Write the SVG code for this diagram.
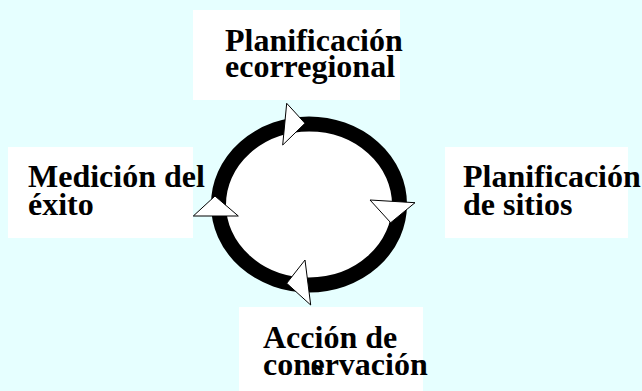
<svg xmlns="http://www.w3.org/2000/svg" width="642" height="391" viewBox="0 0 642 391">
<style>
.box{fill:#ffffff}
.lbl{font-family:'Liberation Serif','Times New Roman',serif;font-weight:700;font-size:32px;fill:#000000}
.arr{fill:#ffffff;stroke:#000000;stroke-width:1;stroke-linejoin:miter}
</style>
<rect x="0" y="0" width="642" height="391" fill="#E6FFFF"/>
<g id="node-ecorregional">
<rect class="box" x="193" y="10" width="207" height="90"/>
<text class="lbl" x="225" y="51">Planificación<tspan x="225" y="77">ecorregional</tspan></text>
</g>
<g id="node-sitios">
<rect class="box" x="445" y="147" width="183" height="91"/>
<text class="lbl" x="463" y="187">Planificación<tspan x="463" y="215">de sitios</tspan></text>
</g>
<g id="node-conservacion">
<rect class="box" x="239" y="307" width="184" height="84"/>
<text class="lbl" x="263" y="348">Acción de<tspan x="263" y="375">cons</tspan><tspan dx="-13">ervación</tspan></text>
</g>
<g id="node-medicion">
<rect class="box" x="8" y="147" width="185" height="91"/>
<text class="lbl" x="28" y="187">Medición del<tspan x="28" y="215">éxito</tspan></text>
</g>
<g id="connectors">
<ellipse cx="309" cy="204.5" rx="90.5" ry="80.5" fill="#ffffff" stroke="#000000" stroke-width="15"/>
<polygon class="arr" points="286.7,103.3 305,123.3 282.7,145"/>
<polygon class="arr" points="370,200 415,202.7 390.7,222.7"/>
<polygon class="arr" points="305,260 286.7,283.3 310.7,305"/>
<polygon class="arr" points="193.3,216 215,196 238.3,216"/>
</g>
</svg>
